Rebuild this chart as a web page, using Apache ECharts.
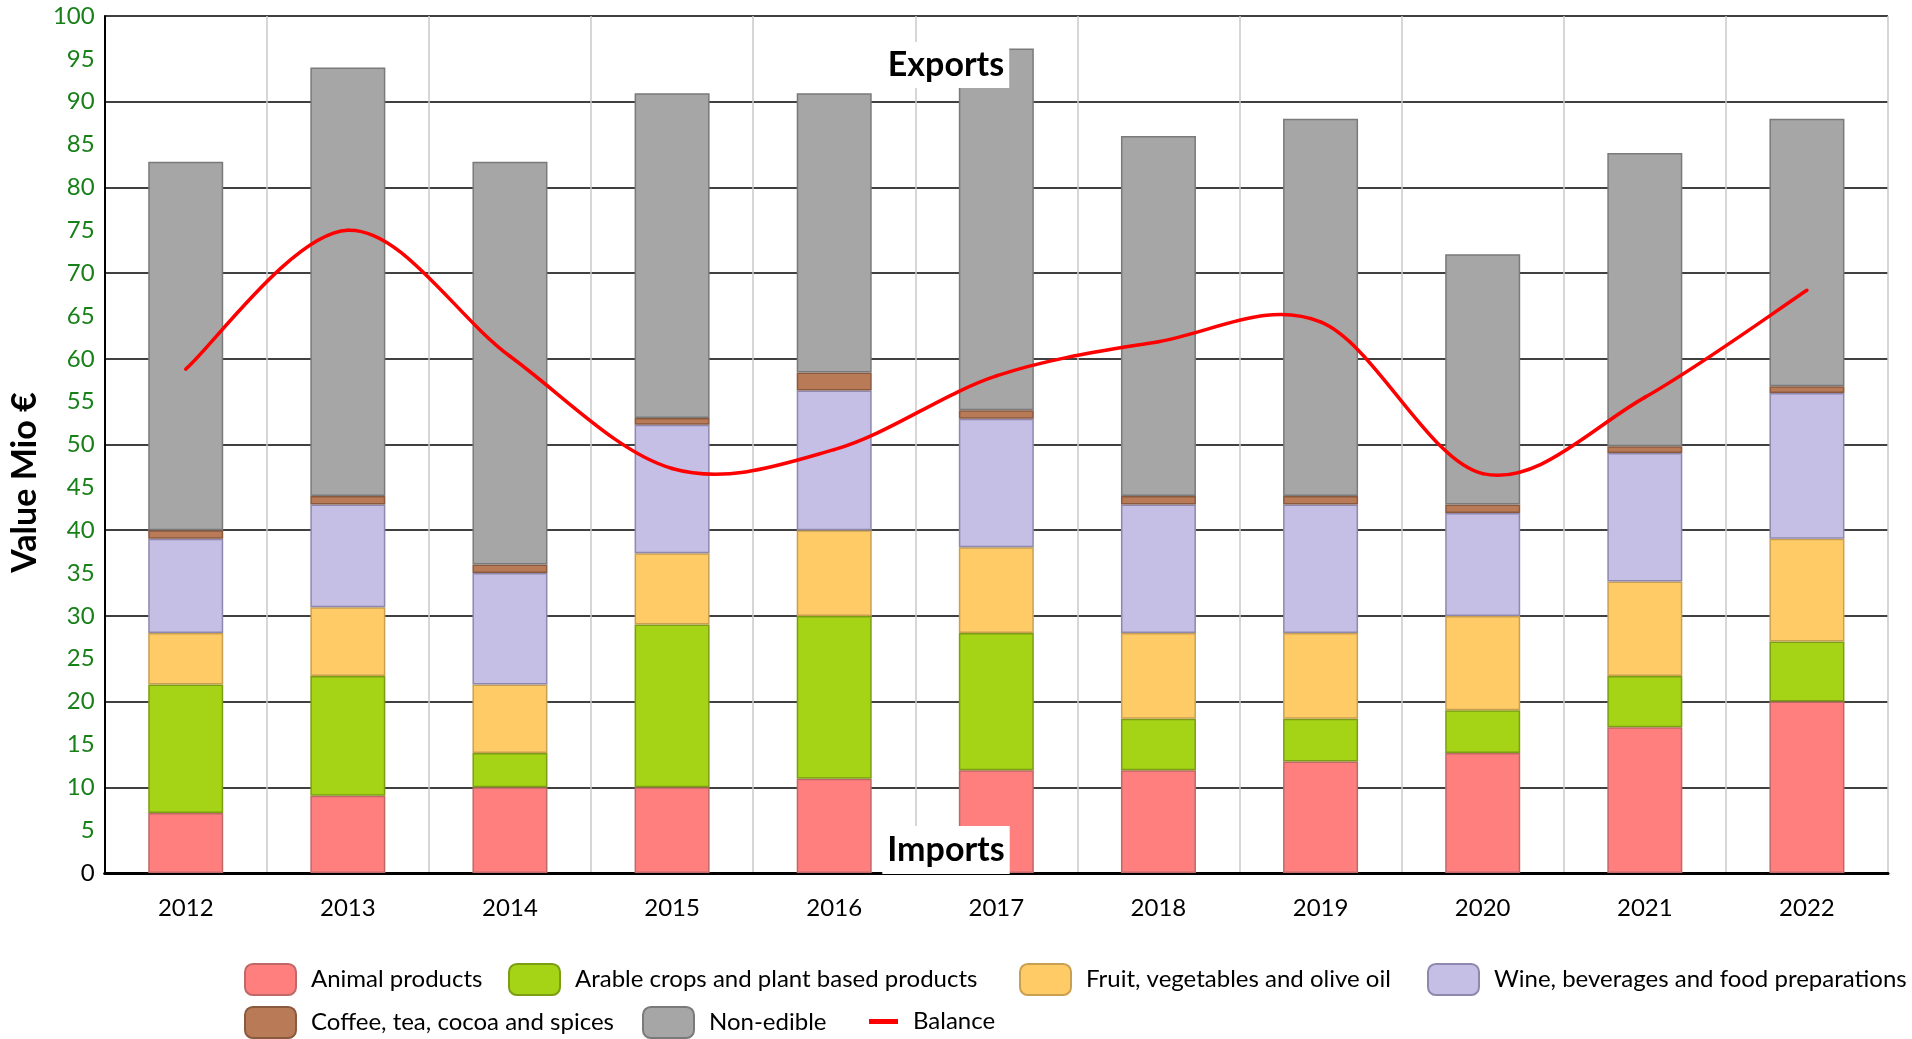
<!DOCTYPE html>
<html>
<head>
<meta charset="utf-8">
<script src="https://cdn.jsdelivr.net/npm/echarts@6/dist/echarts.min.js"></script>
<style>
html,body{margin:0;padding:0;background:#fff;}
#chart{width:1912px;height:1039px;}
</style>
</head>
<body>
<div id="chart"></div>
<script>
const years = ['2012','2013','2014','2015','2016','2017','2018','2019','2020','2021','2022'];
const animal    = [7, 9, 10, 10, 11, 12, 12, 13, 14, 17, 20];
const arable    = [15, 14, 4, 19, 19, 16, 6, 5, 5, 6, 7];
const fruit     = [6, 8, 8, 8.3, 10, 10, 10, 10, 11, 11, 12];
const wine      = [11, 12, 13, 15, 16.3, 15, 15, 15, 12, 15, 17];
const coffee    = [1, 1, 1, 0.8, 2.1, 1, 1, 1, 1, 0.8, 0.8];
const nonEdible = [43, 50, 47, 37.9, 32.6, 42.2, 42, 44, 29.2, 34.2, 31.2];
const balance   = [58.8, 75, 60.3, 47.2, 49.4, 58, 62, 64.3, 46.6, 55.5, 68];

const FONT = 'Lato';
const chart = echarts.init(document.getElementById('chart'));

function barSeries(name, data, fill, border) {
  return {
    name: name, type: 'bar', stack: 'exports', data: data,
    barWidth: 75,
    itemStyle: { color: fill, borderColor: border, borderWidth: 1.5 },
    emphasis: { disabled: true }
  };
}

// Balance line: smooth curve (Catmull-Rom style, like spreadsheet smoothing)
// drawn through the axis scales from the balance values.
function renderBalance(params, api) {
  const i = params.dataIndex;
  const n = balance.length;
  if (i >= n - 1) return null;
  const pt = function (k) { return api.coord([k, api.value(1, k)]); };
  const p1 = pt(i), p2 = pt(i + 1);
  const p0 = i > 0 ? pt(i - 1) : p1;
  const p3 = i + 2 < n ? pt(i + 2) : p2;
  const t = 1 / 6;
  return {
    type: 'bezierCurve',
    shape: {
      x1: p1[0], y1: p1[1], x2: p2[0], y2: p2[1],
      cpx1: p1[0] + (p2[0] - p0[0]) * t, cpy1: p1[1] + (p2[1] - p0[1]) * t,
      cpx2: p2[0] - (p3[0] - p1[0]) * t, cpy2: p2[1] - (p3[1] - p1[1]) * t
    },
    style: { stroke: '#FF0000', lineWidth: 3.5, fill: null, lineCap: 'round' },
    silent: true
  };
}

const legendText = { fontSize: 24, fontFamily: FONT, color: '#000', padding: [6, 0, 0, 10] };
const legendItems = [
  { name: 'Animal products', left: 239, top: 958 },
  { name: 'Arable crops and plant based products', left: 503, top: 958 },
  { name: 'Fruit, vegetables and olive oil', left: 1014, top: 958 },
  { name: 'Wine, beverages and food preparations', left: 1422, top: 958 },
  { name: 'Coffee, tea, cocoa and spices', left: 239, top: 1001 },
  { name: 'Non-edible', left: 637, top: 1001 },
  { name: 'Balance', left: 842, top: 1001, icon: 'path://M0,0 M51,31 M22,13 L51,13 L51,18 L22,18 Z' }
];

const option = {
  animation: false,
  backgroundColor: '#fff',
  textStyle: { fontFamily: FONT },
  grid: { left: 104, right: 24, top: 16, bottom: 166, containLabel: false },
  xAxis: [
    {
      type: 'category', data: years, position: 'bottom',
      axisLine: { show: true, lineStyle: { color: '#000', width: 3 } },
      axisTick: { show: false },
      axisLabel: { color: '#000', fontSize: 24, fontFamily: FONT, margin: 23 },
      splitLine: { show: true, lineStyle: { color: '#c8c8c8', width: 1.5 } }
    },
    {
      type: 'category', data: years, position: 'bottom', offset: 13,
      axisLine: { show: true, lineStyle: { color: '#000', width: 1.5 } },
      axisTick: { show: false }, axisLabel: { show: false }, splitLine: { show: false }
    }
  ],
  yAxis: [
    {
      type: 'value', min: 0, max: 100, interval: 5,
      name: 'Value Mio €', nameLocation: 'middle', nameGap: 52,
      nameTextStyle: { fontSize: 34, fontWeight: 'bold', color: '#000', fontFamily: FONT, padding: [0, 76, 0, 0] },
      axisLine: { show: true, lineStyle: { color: '#000', width: 2 } },
      axisTick: { show: false },
      axisLabel: {
        fontSize: 24, fontFamily: FONT, margin: 10,
        color: function (v) { return Number(v) === 0 ? '#000' : '#188018'; }
      },
      splitLine: { show: false }
    },
    {
      type: 'value', min: 0, max: 100, interval: 10, position: 'left',
      axisLine: { show: false }, axisTick: { show: false }, axisLabel: { show: false },
      splitLine: { show: true, lineStyle: { color: '#000', width: 1.5 } }
    }
  ],
  legend: legendItems.map(function (it) {
    const d = it.icon ? { name: it.name, icon: it.icon } : it.name;
    return {
      left: it.left, top: it.top, orient: 'horizontal',
      itemWidth: 51, itemHeight: 31, itemGap: 0,
      textStyle: legendText, data: [d], selectedMode: false
    };
  }),
  graphic: [
    {
      type: 'text', x: 946, y: 65, z: 100,
      style: {
        text: 'Exports', font: 'bold 34px Lato', fill: '#000',
        textAlign: 'center', textVerticalAlign: 'middle',
        backgroundColor: '#fff', padding: [10, 5, 2, 5]
      }
    },
    {
      type: 'text', x: 946, y: 850, z: 100,
      style: {
        text: 'Imports', font: 'bold 34px Lato', fill: '#000',
        textAlign: 'center', textVerticalAlign: 'middle',
        backgroundColor: '#fff', padding: [8, 5, 6, 5]
      }
    }
  ],
  series: [
    barSeries('Animal products', animal, '#FF7F7F', '#C06868'),
    barSeries('Arable crops and plant based products', arable, '#A5D316', '#7C9E12'),
    barSeries('Fruit, vegetables and olive oil', fruit, '#FFCB66', '#C9A052'),
    barSeries('Wine, beverages and food preparations', wine, '#C6BFE5', '#8F88AE'),
    barSeries('Coffee, tea, cocoa and spices', coffee, '#B97A57', '#8A5A3F'),
    barSeries('Non-edible', nonEdible, '#A6A6A6', '#7A7A7A'),
    {
      name: 'Balance', type: 'custom', renderItem: renderBalance,
      data: balance.map(function (v, i) { return [i, v]; }),
      encode: { x: 0, y: 1 }, z: 10,
      itemStyle: { color: '#FF0000' },
      emphasis: { disabled: true }
    }
  ]
};
chart.setOption(option);
</script>
</body>
</html>
